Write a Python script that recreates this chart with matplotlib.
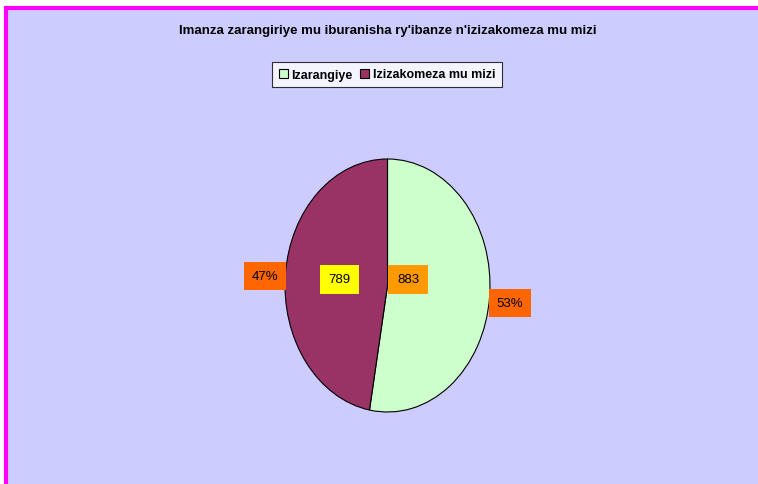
import matplotlib
matplotlib.use("Agg")
import matplotlib.pyplot as plt
import matplotlib.patches as mpatches
import numpy as np

plt.rcParams['font.family'] = ['Liberation Sans Narrow', 'Liberation Sans', 'DejaVu Sans']

# ==== DATA ====
categories = ["Izarangiye", "Izizakomeza mu mizi"]
values = [883, 789]
percent_labels = ["53%", "47%"]
title = "Imanza zarangiriye mu iburanisha ry'ibanze n'izizakomeza mu mizi"
# ==============

slice_colors = ["#CCFFCC", "#993366"]
value_box_colors = ["#FF9900", "#FFFF00"]
pct_box_color = "#FF6600"

W, H = 758, 485
fig = plt.figure(figsize=(W / 100, H / 100), dpi=100)
fig.patch.set_facecolor("white")

# chart area with magenta border (runs off the right/bottom edges)
area = mpatches.Rectangle((6 / W, -0.05), 1.1, 1 - 9 / H + 0.05,
                          transform=fig.transFigure, facecolor="#CCCCFF",
                          edgecolor="#FF00FF", linewidth=3, zorder=-10)
fig.patches.append(area)

fig.text(388 / W, 1 - 31 / H, title, ha="center", va="center",
         fontsize=9.5, fontweight="bold")

# pie axes: ellipse, taller than wide
ax = fig.add_axes([285 / W, 1 - 413 / H, 205 / W, 253 / H])
ax.set_zorder(5)

wedges, _ = ax.pie(values, colors=slice_colors, startangle=90, counterclock=False,
                   radius=1, center=(0, 0), frame=False,
                   wedgeprops=dict(edgecolor="black", linewidth=0.8))
ax.set_xlim(-1, 1)
ax.set_ylim(-1, 1)
ax.set_aspect("auto")
ax.axis("off")

# percent labels outside, along each slice's middle angle
for w, lab in zip(wedges, percent_labels):
    mid = np.deg2rad((w.theta1 + w.theta2) / 2)
    ax.text(1.2 * np.cos(mid), 1.2 * np.sin(mid) - 0.03, lab, ha="center", va="center",
            fontsize=9.5, clip_on=False,
            bbox=dict(boxstyle="square,pad=0.6", facecolor=pct_box_color, edgecolor="none"))

# value labels inside
value_pos = [(0.2, 0.05), (-0.47, 0.05)]
for (x, y), v, c in zip(value_pos, values, value_box_colors):
    ax.text(x, y, str(v), ha="center", va="center", fontsize=9.5,
            bbox=dict(boxstyle="square,pad=0.65", facecolor=c, edgecolor="none"))

handles = [mpatches.Patch(facecolor=c, edgecolor="black", linewidth=0.8) for c in slice_colors]
leg = fig.legend(handles, categories, loc="center", bbox_to_anchor=(387 / W, 1 - 75.5 / H),
                 ncol=2, frameon=True, fancybox=False, handlelength=0.7, handleheight=0.7,
                 handletextpad=0.3, columnspacing=0.6, borderpad=0.55,
                 prop=dict(weight="bold", size=9))
leg.get_frame().set_edgecolor("black")
leg.get_frame().set_linewidth(0.8)
leg.get_frame().set_facecolor("white")

fig.savefig("out.png", dpi=100)
